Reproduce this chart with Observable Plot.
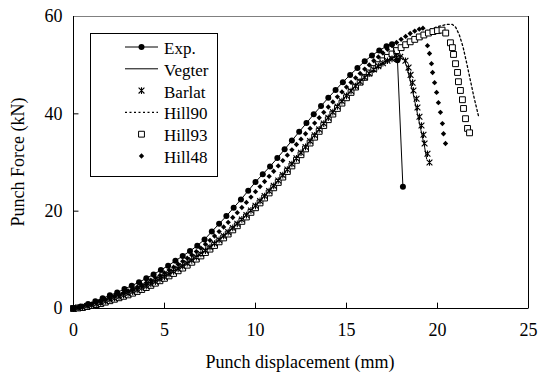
<!DOCTYPE html>
<html><head><meta charset="utf-8">
<script src="https://cdn.jsdelivr.net/npm/d3@7"></script>
<script src="https://cdn.jsdelivr.net/npm/@observablehq/plot@0.6"></script>
<style>
body{margin:0;background:#fff;}
#wrap{position:relative;width:539px;height:379px;font-family:"Liberation Serif", serif;color:#000;}
#chart svg text{font-family:"Liberation Serif", serif !important;}
.title{position:absolute;font-size:18px;white-space:nowrap;line-height:1;}
#xt{left:300px;top:362px;transform:translate(-50%,-50%);}
#yt{left:18px;top:162px;transform:translate(-50%,-50%) rotate(-90deg);}
#legend{position:absolute;left:90px;top:33px;width:128px;height:144px;}
#legend svg{position:absolute;left:0;top:0;}
.lab{position:absolute;left:74px;font-size:17px;line-height:1;white-space:nowrap;transform:translateY(-50%);}
</style></head><body>
<div id="wrap"><div id="chart"></div><div class="title" id="xt">Punch displacement (mm)</div><div class="title" id="yt">Punch Force (kN)</div><div id="legend"></div></div>
<script>
const xTicks = [0, 5, 10, 15, 20, 25];
const yTicks = [0, 20, 40, 60];
const seriesNames = ["Exp.", "Vegter", "Barlat", "Hill90", "Hill93", "Hill48"];

const expX = [0,0.4,0.8,1.2,1.6,2.0,2.4,2.8,3.2,3.6,4.0,4.4,4.8,5.2,5.6,6.0,6.4,6.8,7.2,7.6,8.0,8.4,8.8,9.2,9.6,10.0,10.4,10.8,11.2,11.6,12.0,12.4,12.8,13.2,13.6,14.0,14.4,14.8,15.2,15.6,16.0,16.4,16.8,17.2,17.5,17.8,18.1];
const expF = [0.0,0.4,0.9,1.5,2.1,2.7,3.3,4.0,4.7,5.4,6.2,7.0,7.9,8.8,9.8,10.8,11.8,12.9,14.2,15.8,17.4,19.0,20.7,22.4,24.2,26.0,27.6,29.2,30.9,32.7,34.5,36.3,38.1,39.9,41.6,43.3,44.9,46.5,48.0,49.4,50.8,52.0,53.0,53.9,54.3,51.0,25.0];

const vegterX = [0,0.5,1,1.5,2,2.5,3,3.5,4,4.5,5,5.5,6,6.5,7,7.5,8,8.5,9,9.5,10,10.5,11,11.5,12,12.5,13,13.5,14,14.5,15,15.5,16,16.5,17,17.5,17.9,18.1,18.3,18.5,18.7,18.9,19.1,19.3,19.4];
const vegterF = [0,0.3,0.8,1.3,1.9,2.5,3.2,3.9,4.7,5.6,6.6,7.7,8.8,10.0,11.3,12.7,14.2,15.8,17.5,19.3,21.2,23.2,25.3,27.5,29.8,32.1,34.5,36.9,39.3,41.6,43.8,45.8,47.6,49.2,50.5,51.4,51.9,51.7,49.8,46.8,43.5,40.0,36.5,33.0,30.8];

const barlatX = [0,0.25,0.5,0.75,1,1.25,1.5,1.75,2,2.25,2.5,2.75,3,3.25,3.5,3.75,4,4.25,4.5,4.75,5,5.25,5.5,5.75,6,6.25,6.5,6.75,7,7.25,7.5,7.75,8,8.25,8.5,8.75,9,9.25,9.5,9.75,10,10.25,10.5,10.75,11,11.25,11.5,11.75,12,12.25,12.5,12.75,13,13.25,13.5,13.75,14,14.25,14.5,14.75,15,15.25,15.5,15.75,16,16.25,16.5,16.75,17,17.25,17.5,17.75,17.95,18.24,18.41,18.52,18.63,18.68,18.85,18.90,19.01,19.12,19.23,19.29,19.45,19.56];
const barlatF = [0,0.15,0.3,0.5,0.7,0.95,1.2,1.5,1.8,2.1,2.4,2.75,3.1,3.45,3.8,4.2,4.6,5.05,5.5,6.0,6.5,7.05,7.6,8.15,8.7,9.3,9.9,10.55,11.2,11.9,12.6,13.35,14.1,14.9,15.7,16.55,17.4,18.3,19.2,20.15,21.1,22.1,23.1,24.15,25.2,26.3,27.4,28.55,29.7,30.85,32.0,33.2,34.4,35.6,36.8,38.0,39.2,40.35,41.5,42.6,43.7,44.7,45.7,46.6,47.5,48.3,49.1,49.8,50.4,50.9,51.3,51.6,51.7,50.9,49.5,48.0,46.4,44.8,43.1,41.3,39.4,37.6,35.7,33.9,31.8,30.0];

const hill90X = [0,0.5,1,1.5,2,2.5,3,3.5,4,4.5,5,5.5,6,6.5,7,7.5,8,8.5,9,9.5,10,10.5,11,11.5,12,12.5,13,13.5,14,14.5,15,15.5,16,16.5,17,17.5,18,18.5,19,19.5,20,20.5,20.8,21.0,21.2,21.4,21.6,21.8,22.0,22.25];
const hill90F = [0,0.3,0.7,1.1,1.7,2.3,3.0,3.7,4.5,5.4,6.4,7.4,8.5,9.7,11.0,12.4,13.9,15.5,17.2,19.0,20.9,22.9,25.0,27.2,29.5,31.8,34.2,36.6,39.0,41.3,43.5,45.6,47.6,49.5,51.2,52.7,54.0,55.2,56.3,57.2,57.9,58.4,58.4,57.8,56.2,53.8,50.5,47.0,43.5,39.6];

const hill93X = [0,0.25,0.5,0.75,1,1.25,1.5,1.75,2,2.25,2.5,2.75,3,3.25,3.5,3.75,4,4.25,4.5,4.75,5,5.25,5.5,5.75,6,6.25,6.5,6.75,7,7.25,7.5,7.75,8,8.25,8.5,8.75,9,9.25,9.5,9.75,10,10.25,10.5,10.75,11,11.25,11.5,11.75,12,12.25,12.5,12.75,13,13.25,13.5,13.75,14,14.25,14.5,14.75,15,15.25,15.5,15.75,16,16.25,16.5,16.75,17,17.25,17.5,17.75,18,18.25,18.5,18.75,19,19.25,19.5,19.75,20,20.25,20.45,20.71,20.82,20.88,20.99,21.10,21.15,21.26,21.37,21.43,21.54,21.65,21.76];
const hill93F = [0,0.1,0.2,0.4,0.6,0.8,1.0,1.3,1.6,1.9,2.2,2.5,2.8,3.15,3.5,3.9,4.3,4.75,5.2,5.7,6.2,6.7,7.2,7.75,8.3,8.9,9.5,10.15,10.8,11.5,12.2,12.95,13.7,14.5,15.3,16.15,17.0,17.9,18.8,19.75,20.7,21.7,22.7,23.75,24.8,25.9,27.0,28.15,29.3,30.45,31.6,32.8,34.0,35.2,36.4,37.6,38.8,39.95,41.1,42.2,43.3,44.4,45.5,46.5,47.5,48.4,49.3,50.1,50.9,51.6,52.3,53.0,53.6,54.2,54.8,55.3,55.8,56.2,56.6,56.9,57.1,57.2,56.6,54.6,53.6,52.2,50.3,48.5,46.6,44.8,42.9,41.1,39.0,37.0,36.1];

const hill48X = [0,0.25,0.5,0.75,1,1.25,1.5,1.75,2,2.25,2.5,2.75,3,3.25,3.5,3.75,4,4.25,4.5,4.75,5,5.25,5.5,5.75,6,6.25,6.5,6.75,7,7.25,7.5,7.75,8,8.25,8.5,8.75,9,9.25,9.5,9.75,10,10.25,10.5,10.75,11,11.25,11.5,11.75,12,12.25,12.5,12.75,13,13.25,13.5,13.75,14,14.25,14.5,14.75,15,15.25,15.5,15.75,16,16.25,16.5,16.75,17,17.25,17.5,17.75,18,18.25,18.5,18.75,19,19.2,19.45,19.56,19.67,19.73,19.84,19.95,20.05,20.16,20.27,20.33,20.44];
const hill48F = [0,0.2,0.4,0.65,0.9,1.2,1.5,1.85,2.2,2.55,2.9,3.25,3.6,4.0,4.4,4.85,5.3,5.8,6.3,6.8,7.3,7.9,8.5,9.1,9.7,10.35,11.0,11.7,12.4,13.2,14.0,14.9,15.8,16.75,17.7,18.7,19.7,20.75,21.8,22.9,24.0,25.05,26.1,27.15,28.2,29.3,30.4,31.5,32.6,33.7,34.8,35.9,37.0,38.1,39.2,40.3,41.4,42.45,43.5,44.5,45.5,46.45,47.4,48.3,49.2,50.05,50.9,51.7,52.5,53.25,54.0,54.65,55.3,55.9,56.5,57.0,57.4,57.6,54.0,52.4,50.3,48.5,46.4,44.4,42.3,40.3,38.0,35.9,33.9];

const toRows = (xs, ys) => xs.map((x, i) => ({x, y: ys[i]}));
const exp = toRows(expX, expF), vegter = toRows(vegterX, vegterF), barlat = toRows(barlatX, barlatF),
      hill90 = toRows(hill90X, hill90F), hill93 = toRows(hill93X, hill93F), hill48 = toRows(hill48X, hill48F);

// Excel-style star marker: X plus vertical bar
const star = {draw(ctx, size) {
  const r = Math.sqrt(size / Math.PI);
  ctx.moveTo(-r, -r); ctx.lineTo(r, r);
  ctx.moveTo(r, -r); ctx.lineTo(-r, r);
  ctx.moveTo(0, -r * 1.15); ctx.lineTo(0, r * 1.15);
}};
const SERIF = "Liberation Serif, serif";

const chart = Plot.plot({
  width: 539, height: 379,
  marginLeft: 73, marginRight: 11, marginTop: 16, marginBottom: 71,
  style: {fontFamily: SERIF, fontSize: "18px", background: "white", color: "black"},
  x: {domain: [0, 25]},
  y: {domain: [0, 60]},
  marks: [
    Plot.frame({stroke: "#808080"}),
    Plot.ruleX([0, 25], {stroke: "black"}),
    Plot.ruleY([0], {stroke: "black"}),
    Plot.ruleX(xTicks.slice(1, -1), {x: d => d, y1: 0, y2: 1.1, stroke: "black"}),
    Plot.ruleY(yTicks.slice(1, -1), {y: d => d, x1: 0, x2: 0.3, stroke: "black"}),
    Plot.axisX({ticks: xTicks, tickSize: 0, tickPadding: 15, label: null, fontSize: 18, fontFamily: SERIF}),
    Plot.axisY({ticks: yTicks, tickSize: 0, tickPadding: 11, label: null, fontSize: 18, fontFamily: SERIF}),
    Plot.line(hill90, {x: "x", y: "y", stroke: "black", strokeWidth: 1.3, strokeDasharray: "2,2.5"}),
    Plot.dot(hill93, {x: "x", y: "y", symbol: "square", r: 3.3, stroke: "black", strokeWidth: 1, fill: "white"}),
    Plot.line(vegter, {x: "x", y: "y", stroke: "black", strokeWidth: 1}),
    Plot.dot(barlat, {x: "x", y: "y", symbol: star, r: 2.9, stroke: "black", strokeWidth: 1.1}),
    Plot.dot(hill48, {x: "x", y: "y", symbol: "diamond2", r: 2.4, fill: "black", stroke: "none"}),
    Plot.line(exp, {x: "x", y: "y", stroke: "black", strokeWidth: 1}),
    Plot.dot(exp, {x: "x", y: "y", r: 3, fill: "black", stroke: "none"})
  ]
});
document.getElementById("chart").appendChild(chart);

// legend
const W = 128, H = 144;
const legend = d3.select("#legend");
const svg = legend.append("svg").attr("width", W).attr("height", H);
svg.append("rect").attr("x", 0.5).attr("y", 0.5).attr("width", W - 1).attr("height", H - 1).attr("fill", "white").attr("stroke", "black");
const rowY = [14, 35.8, 57.6, 79.4, 101.2, 123];
const sx0 = 35, sx1 = 68, sc = 51.5;
seriesNames.forEach((name, i) => {
  const y = rowY[i];
  const g = svg.append("g");
  if (name === "Exp.") {
    g.append("line").attr("x1", sx0).attr("x2", sx1).attr("y1", y).attr("y2", y).attr("stroke", "black");
    g.append("circle").attr("cx", sc).attr("cy", y).attr("r", 3).attr("fill", "black");
  } else if (name === "Vegter") {
    g.append("line").attr("x1", sx0).attr("x2", sx1).attr("y1", y).attr("y2", y).attr("stroke", "black");
  } else if (name === "Hill90") {
    g.append("line").attr("x1", sx0).attr("x2", sx1).attr("y1", y).attr("y2", y).attr("stroke", "black").attr("stroke-width", 1.3).attr("stroke-dasharray", "2,2.5");
  } else {
    const sym = name === "Barlat" ? star : name === "Hill93" ? d3.symbolSquare : d3.symbolDiamond2;
    const r = name === "Barlat" ? 2.9 : name === "Hill93" ? 3.3 : 2.4;
    const p = g.append("path").attr("transform", `translate(${sc},${y})`).attr("d", d3.symbol(sym, Math.PI * r * r)());
    if (name === "Hill48") p.attr("fill", "black");
    else p.attr("fill", "white").attr("stroke", "black").attr("stroke-width", name === "Barlat" ? 1.1 : 1);
  }
  legend.append("div").attr("class", "lab").style("top", (y + 1) + "px").text(name);
});
</script></body></html>
